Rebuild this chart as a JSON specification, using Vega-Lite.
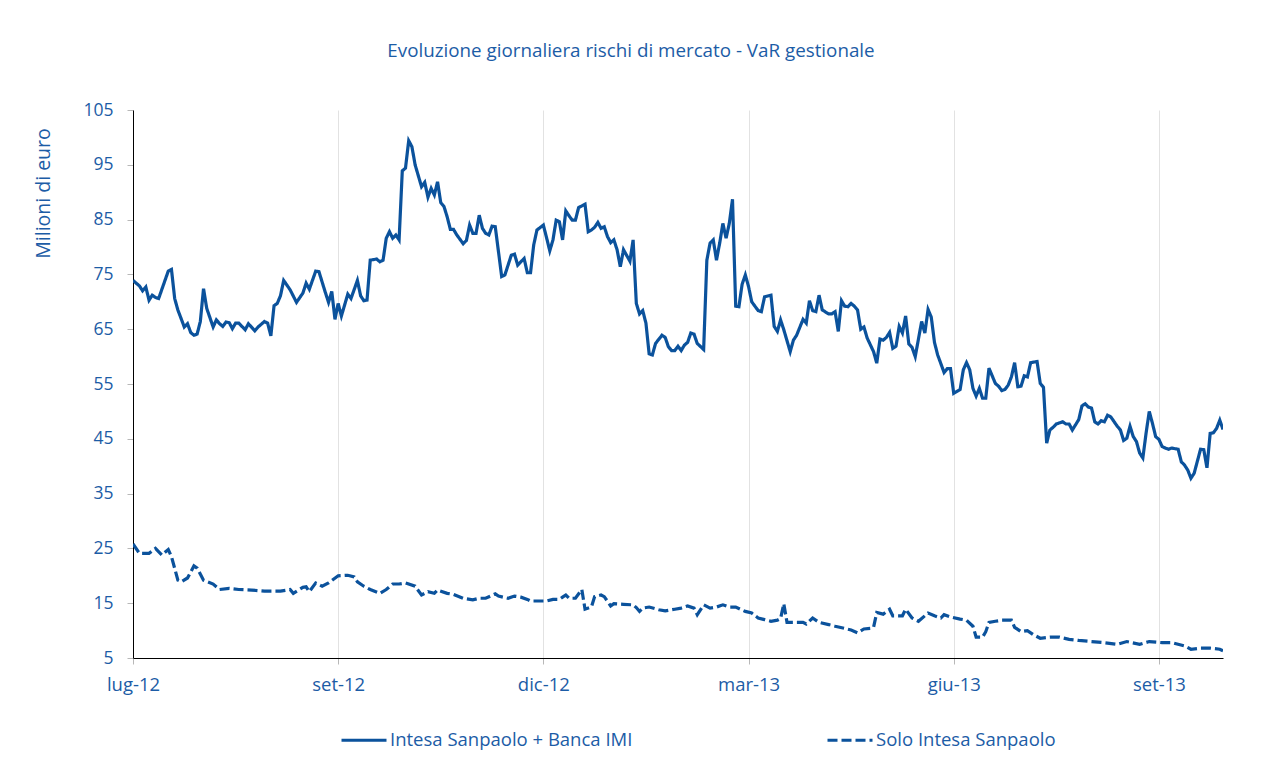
{
  "$schema": "https://vega.github.io/schema/vega-lite/v6.json",
  "width": 1090,
  "height": 548,
  "autosize": {"type": "none"},
  "padding": {"left": 133, "top": 110, "right": 39, "bottom": 106},
  "background": "white",
  "title": {
    "text": "Evoluzione giornaliera rischi di mercato - VaR gestionale",
    "anchor": "middle",
    "dx": -47,
    "offset": 40,
    "font": "Open Sans",
    "fontSize": 18.8,
    "fontWeight": "normal",
    "color": "#1c5ca6"
  },
  "datasets": {
    "banca": [
      {"d":0,"v":73.9},{"d":2,"v":72.9},{"d":3,"v":72.0},{"d":4,"v":72.7},{"d":5,"v":70.3},{"d":6,"v":71.2},{"d":7,"v":70.8},{"d":8,"v":70.6},{"d":11,"v":75.6},{"d":12,"v":75.9},{"d":13,"v":70.6},{"d":14,"v":68.5},{"d":16,"v":65.4},{"d":17,"v":66.0},{"d":18,"v":64.4},{"d":19,"v":63.9},{"d":20,"v":64.1},{"d":21,"v":66.4},{"d":22,"v":72.4},{"d":23,"v":68.8},{"d":25,"v":65.4},{"d":26,"v":66.7},{"d":27,"v":66.0},{"d":28,"v":65.5},{"d":29,"v":66.3},{"d":30,"v":66.2},{"d":31,"v":65.1},{"d":32,"v":66.1},{"d":33,"v":66.1},{"d":35,"v":64.9},{"d":36,"v":66.0},{"d":38,"v":64.7},{"d":39,"v":65.4},{"d":41,"v":66.4},{"d":42,"v":66.1},{"d":43,"v":63.8},{"d":44,"v":69.3},{"d":45,"v":69.7},{"d":46,"v":71.1},{"d":47,"v":73.9},{"d":49,"v":72.2},{"d":51,"v":69.9},{"d":53,"v":71.6},{"d":54,"v":73.4},{"d":55,"v":72.3},{"d":57,"v":75.6},{"d":58,"v":75.5},{"d":60,"v":71.7},{"d":61,"v":69.9},{"d":62,"v":71.9},{"d":63,"v":66.8},{"d":64,"v":69.7},{"d":65,"v":67.4},{"d":67,"v":71.4},{"d":68,"v":70.6},{"d":70,"v":73.9},{"d":71,"v":71.1},{"d":72,"v":70.2},{"d":73,"v":70.3},{"d":74,"v":77.6},{"d":76,"v":77.8},{"d":77,"v":77.3},{"d":78,"v":77.6},{"d":79,"v":81.6},{"d":80,"v":82.8},{"d":81,"v":81.6},{"d":82,"v":82.2},{"d":83,"v":81.3},{"d":84,"v":93.9},{"d":85,"v":94.4},{"d":86,"v":99.4},{"d":87,"v":98.3},{"d":88,"v":95.0},{"d":90,"v":91.0},{"d":91,"v":91.8},{"d":92,"v":89.1},{"d":93,"v":90.7},{"d":94,"v":89.5},{"d":95,"v":91.9},{"d":96,"v":88.1},{"d":97,"v":87.4},{"d":98,"v":85.5},{"d":99,"v":83.2},{"d":100,"v":83.2},{"d":101,"v":82.2},{"d":103,"v":80.6},{"d":104,"v":81.2},{"d":105,"v":84.0},{"d":106,"v":82.5},{"d":107,"v":82.5},{"d":108,"v":85.8},{"d":109,"v":83.4},{"d":110,"v":82.5},{"d":111,"v":82.2},{"d":112,"v":83.8},{"d":113,"v":83.7},{"d":115,"v":74.6},{"d":116,"v":74.9},{"d":118,"v":78.5},{"d":119,"v":78.7},{"d":120,"v":76.7},{"d":122,"v":77.9},{"d":123,"v":75.3},{"d":124,"v":75.3},{"d":125,"v":80.4},{"d":126,"v":83.1},{"d":128,"v":84.0},{"d":129,"v":81.7},{"d":130,"v":79.3},{"d":131,"v":81.3},{"d":132,"v":84.9},{"d":133,"v":84.6},{"d":134,"v":81.3},{"d":135,"v":86.6},{"d":136,"v":85.7},{"d":137,"v":84.9},{"d":138,"v":84.9},{"d":139,"v":87.2},{"d":141,"v":87.8},{"d":142,"v":82.8},{"d":143,"v":83.1},{"d":144,"v":83.6},{"d":145,"v":84.5},{"d":146,"v":83.4},{"d":147,"v":83.7},{"d":148,"v":81.9},{"d":149,"v":80.8},{"d":150,"v":81.3},{"d":151,"v":79.5},{"d":152,"v":76.4},{"d":153,"v":79.5},{"d":155,"v":77.4},{"d":156,"v":81.3},{"d":157,"v":69.7},{"d":158,"v":67.8},{"d":159,"v":68.4},{"d":160,"v":66.1},{"d":161,"v":60.5},{"d":162,"v":60.3},{"d":163,"v":62.4},{"d":165,"v":63.9},{"d":166,"v":63.5},{"d":167,"v":61.8},{"d":168,"v":61.1},{"d":169,"v":61.1},{"d":170,"v":61.9},{"d":171,"v":61.1},{"d":172,"v":62.1},{"d":173,"v":62.6},{"d":174,"v":64.3},{"d":175,"v":64.1},{"d":176,"v":62.4},{"d":178,"v":61.3},{"d":179,"v":77.6},{"d":180,"v":80.7},{"d":181,"v":81.3},{"d":182,"v":77.6},{"d":183,"v":80.7},{"d":184,"v":84.3},{"d":185,"v":81.6},{"d":186,"v":84.3},{"d":187,"v":88.7},{"d":188,"v":69.2},{"d":189,"v":69.1},{"d":190,"v":73.2},{"d":191,"v":74.9},{"d":192,"v":72.8},{"d":193,"v":70.0},{"d":195,"v":68.4},{"d":196,"v":68.2},{"d":197,"v":70.9},{"d":199,"v":71.2},{"d":200,"v":65.5},{"d":201,"v":64.6},{"d":202,"v":66.7},{"d":203,"v":64.9},{"d":205,"v":60.9},{"d":206,"v":63.0},{"d":207,"v":63.9},{"d":209,"v":66.8},{"d":210,"v":66.1},{"d":211,"v":70.2},{"d":212,"v":68.4},{"d":213,"v":68.2},{"d":214,"v":71.2},{"d":215,"v":68.5},{"d":217,"v":67.8},{"d":218,"v":67.8},{"d":219,"v":68.2},{"d":220,"v":64.6},{"d":221,"v":70.2},{"d":222,"v":69.2},{"d":223,"v":69.1},{"d":224,"v":69.7},{"d":225,"v":69.2},{"d":226,"v":68.5},{"d":227,"v":65.0},{"d":228,"v":65.4},{"d":229,"v":63.4},{"d":231,"v":60.9},{"d":232,"v":58.8},{"d":233,"v":63.2},{"d":234,"v":63.0},{"d":235,"v":63.5},{"d":236,"v":64.4},{"d":237,"v":61.5},{"d":238,"v":61.9},{"d":239,"v":65.5},{"d":240,"v":64.3},{"d":241,"v":67.4},{"d":242,"v":62.3},{"d":243,"v":61.7},{"d":244,"v":60.0},{"d":246,"v":66.4},{"d":247,"v":64.3},{"d":248,"v":68.6},{"d":249,"v":67.2},{"d":250,"v":62.6},{"d":251,"v":60.3},{"d":252,"v":58.7},{"d":253,"v":57.1},{"d":254,"v":57.8},{"d":255,"v":57.8},{"d":256,"v":53.3},{"d":258,"v":54.0},{"d":259,"v":57.6},{"d":260,"v":58.9},{"d":261,"v":57.6},{"d":262,"v":54.2},{"d":263,"v":52.8},{"d":264,"v":54.2},{"d":265,"v":52.4},{"d":266,"v":52.4},{"d":267,"v":57.9},{"d":269,"v":55.1},{"d":270,"v":54.6},{"d":271,"v":53.8},{"d":272,"v":54.0},{"d":273,"v":54.8},{"d":274,"v":56.3},{"d":275,"v":58.9},{"d":276,"v":54.5},{"d":277,"v":54.6},{"d":278,"v":56.5},{"d":279,"v":56.3},{"d":280,"v":58.9},{"d":282,"v":59.1},{"d":283,"v":55.1},{"d":284,"v":54.4},{"d":285,"v":44.2},{"d":286,"v":46.6},{"d":287,"v":47.1},{"d":288,"v":47.7},{"d":290,"v":48.1},{"d":291,"v":47.7},{"d":292,"v":47.7},{"d":293,"v":46.6},{"d":295,"v":48.5},{"d":296,"v":51.0},{"d":297,"v":51.4},{"d":298,"v":50.8},{"d":299,"v":50.6},{"d":300,"v":48.1},{"d":301,"v":47.7},{"d":302,"v":48.3},{"d":303,"v":48.1},{"d":304,"v":49.3},{"d":305,"v":49.0},{"d":307,"v":47.3},{"d":308,"v":46.6},{"d":309,"v":44.7},{"d":310,"v":45.1},{"d":311,"v":47.3},{"d":312,"v":45.4},{"d":313,"v":44.5},{"d":314,"v":42.4},{"d":315,"v":41.5},{"d":316,"v":46.0},{"d":317,"v":50.0},{"d":318,"v":47.8},{"d":319,"v":45.4},{"d":320,"v":44.9},{"d":321,"v":43.6},{"d":322,"v":43.3},{"d":323,"v":43.1},{"d":324,"v":43.3},{"d":326,"v":43.1},{"d":327,"v":40.8},{"d":328,"v":40.2},{"d":329,"v":39.3},{"d":330,"v":37.8},{"d":331,"v":38.7},{"d":333,"v":43.1},{"d":334,"v":43.0},{"d":335,"v":39.7},{"d":336,"v":46.0},{"d":337,"v":46.1},{"d":338,"v":46.9},{"d":339,"v":48.4},{"d":340,"v":46.7}
    ],
    "solo": [
      {"d":0,"v":25.8},{"d":2,"v":24.1},{"d":5,"v":24.1},{"d":7,"v":25.0},{"d":9,"v":23.8},{"d":11,"v":24.8},{"d":12,"v":23.5},{"d":14,"v":19.2},{"d":15,"v":18.9},{"d":17,"v":19.6},{"d":19,"v":21.8},{"d":20,"v":21.4},{"d":22,"v":19.2},{"d":25,"v":18.5},{"d":27,"v":17.5},{"d":30,"v":17.7},{"d":33,"v":17.5},{"d":37,"v":17.4},{"d":41,"v":17.2},{"d":46,"v":17.2},{"d":49,"v":17.5},{"d":50,"v":16.8},{"d":53,"v":17.9},{"d":54,"v":18.0},{"d":55,"v":17.1},{"d":57,"v":18.7},{"d":59,"v":18.1},{"d":61,"v":18.7},{"d":64,"v":20.0},{"d":67,"v":20.1},{"d":69,"v":19.8},{"d":70,"v":18.9},{"d":72,"v":18.1},{"d":74,"v":17.5},{"d":77,"v":16.8},{"d":79,"v":17.5},{"d":81,"v":18.5},{"d":83,"v":18.5},{"d":85,"v":18.7},{"d":88,"v":18.1},{"d":90,"v":16.5},{"d":92,"v":17.1},{"d":94,"v":16.8},{"d":95,"v":17.4},{"d":98,"v":16.8},{"d":100,"v":16.6},{"d":103,"v":15.9},{"d":106,"v":15.6},{"d":108,"v":15.9},{"d":110,"v":15.9},{"d":113,"v":16.7},{"d":114,"v":16.3},{"d":117,"v":15.9},{"d":119,"v":16.3},{"d":121,"v":16.1},{"d":123,"v":15.7},{"d":124,"v":15.4},{"d":127,"v":15.4},{"d":129,"v":15.4},{"d":131,"v":15.7},{"d":133,"v":15.7},{"d":134,"v":16.1},{"d":135,"v":16.5},{"d":136,"v":15.9},{"d":138,"v":15.9},{"d":140,"v":17.5},{"d":141,"v":13.9},{"d":143,"v":14.3},{"d":144,"v":16.2},{"d":146,"v":16.5},{"d":147,"v":16.2},{"d":149,"v":14.5},{"d":150,"v":14.9},{"d":153,"v":14.8},{"d":156,"v":14.7},{"d":157,"v":14.2},{"d":158,"v":13.5},{"d":159,"v":14.1},{"d":161,"v":14.3},{"d":164,"v":13.8},{"d":166,"v":13.6},{"d":169,"v":13.9},{"d":171,"v":14.1},{"d":173,"v":14.5},{"d":175,"v":14.1},{"d":176,"v":12.9},{"d":178,"v":14.7},{"d":180,"v":14.1},{"d":182,"v":14.3},{"d":184,"v":14.7},{"d":186,"v":14.3},{"d":188,"v":14.3},{"d":191,"v":13.5},{"d":193,"v":13.2},{"d":195,"v":12.3},{"d":197,"v":12.0},{"d":199,"v":11.7},{"d":201,"v":11.9},{"d":202,"v":12.2},{"d":203,"v":14.9},{"d":204,"v":11.5},{"d":206,"v":11.5},{"d":209,"v":11.5},{"d":210,"v":11.2},{"d":212,"v":12.3},{"d":214,"v":11.5},{"d":217,"v":11.1},{"d":219,"v":10.8},{"d":222,"v":10.4},{"d":224,"v":10.1},{"d":226,"v":9.6},{"d":228,"v":10.3},{"d":230,"v":10.4},{"d":231,"v":10.6},{"d":232,"v":13.3},{"d":234,"v":13.0},{"d":236,"v":13.9},{"d":237,"v":12.7},{"d":240,"v":12.7},{"d":241,"v":13.9},{"d":243,"v":12.3},{"d":245,"v":11.7},{"d":248,"v":13.2},{"d":250,"v":12.7},{"d":252,"v":12.3},{"d":253,"v":12.9},{"d":255,"v":12.5},{"d":258,"v":12.1},{"d":260,"v":11.9},{"d":262,"v":10.8},{"d":263,"v":8.8},{"d":265,"v":8.8},{"d":266,"v":9.8},{"d":267,"v":11.5},{"d":269,"v":11.7},{"d":271,"v":11.9},{"d":274,"v":11.9},{"d":275,"v":10.6},{"d":277,"v":9.8},{"d":279,"v":10.0},{"d":281,"v":9.2},{"d":283,"v":8.6},{"d":286,"v":8.8},{"d":289,"v":8.8},{"d":292,"v":8.4},{"d":295,"v":8.2},{"d":299,"v":8.0},{"d":303,"v":7.8},{"d":307,"v":7.5},{"d":310,"v":8.0},{"d":314,"v":7.5},{"d":317,"v":8.0},{"d":321,"v":7.8},{"d":324,"v":7.8},{"d":328,"v":7.2},{"d":330,"v":6.6},{"d":333,"v":6.8},{"d":336,"v":6.8},{"d":339,"v":6.6},{"d":340,"v":6.3}
    ]
  },
  "encoding": {
    "x": {
      "field": "d",
      "type": "quantitative",
      "scale": {"domain": [0, 340], "nice": false, "zero": false},
      "axis": {
        "title": null,
        "values": [0, 64, 128, 192, 256, 320],
        "labelExpr": "['lug-12','set-12','dic-12','mar-13','giu-13','set-13'][round(datum.value/64)]",
        "labelFlush": false,
        "labelOverlap": false,
        "domainColor": "#000000",
        "domainWidth": 1,
        "ticks": true,
        "tickColor": "#b8b8b8",
        "tickSize": 6,
        "grid": true,
        "gridColor": "#e2e2e2",
        "gridWidth": 1,
        "labelFont": "Open Sans",
        "labelFontSize": 18.5,
        "labelColor": "#1c5ca6",
        "labelPadding": 11
      }
    },
    "y": {
      "field": "v",
      "type": "quantitative",
      "scale": {"domain": [5, 105], "nice": false, "zero": false},
      "axis": {
        "title": "Milioni di euro",
        "titleFont": "Open Sans",
        "titleFontSize": 19.5,
        "titleFontWeight": "normal",
        "titleColor": "#1c5ca6",
        "titleX": -90,
        "titleY": 83,
        "titleAlign": "center",
        "titleBaseline": "middle",
        "values": [5, 15, 25, 35, 45, 55, 65, 75, 85, 95, 105],
        "domainColor": "#000000",
        "domainWidth": 1,
        "ticks": true,
        "tickColor": "#b8b8b8",
        "tickSize": 6,
        "grid": false,
        "labelFont": "Open Sans",
        "labelFontSize": 17.5,
        "labelColor": "#1c5ca6",
        "labelPadding": 14
      }
    },
    "strokeDash": {
      "type": "nominal",
      "scale": {
        "domain": ["Intesa Sanpaolo + Banca IMI", "Solo Intesa Sanpaolo"],
        "range": [[1, 0], [10, 4]]
      },
      "legend": {
        "title": null,
        "orient": "none",
        "direction": "horizontal",
        "legendX": 207,
        "legendY": 606,
        "padding": 0,
        "symbolType": "stroke",
        "symbolSize": 2025,
        "symbolStrokeWidth": 3,
        "symbolStrokeColor": "#0b529c",
        "labelFont": "Open Sans",
        "labelFontSize": 18.5,
        "labelColor": "#1c5ca6",
        "labelOffset": 2,
        "columnPadding": 188,
        "labelLimit": 400
      }
    }
  },
  "layer": [
    {
      "data": {"name": "banca"},
      "mark": {"type": "line", "color": "#0b529c", "strokeWidth": 3.2, "clip": true},
      "encoding": {"strokeDash": {"datum": "Intesa Sanpaolo + Banca IMI"}}
    },
    {
      "data": {"name": "solo"},
      "mark": {"type": "line", "color": "#0b529c", "strokeWidth": 3.2, "clip": true},
      "encoding": {"strokeDash": {"datum": "Solo Intesa Sanpaolo"}}
    }
  ],
  "config": {
    "view": {"stroke": null},
    "font": "Open Sans"
  }
}
